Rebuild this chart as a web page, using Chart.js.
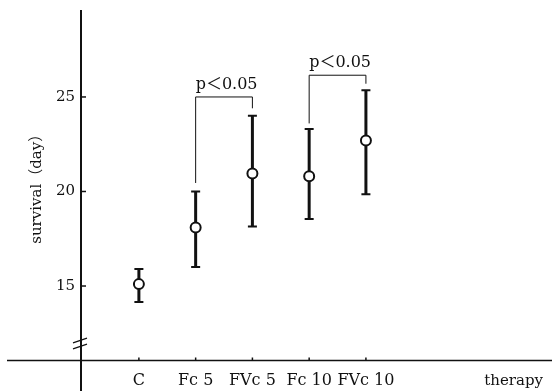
<!DOCTYPE html>
<html>
<head>
<meta charset="utf-8">
<script src="https://cdn.jsdelivr.net/npm/chart.js@4"></script>
<style>
  html, body { margin: 0; padding: 0; background: #fff; }
  #wrap { width: 552px; height: 391px; position: relative; }
</style>
</head>
<body>
<div id="wrap"><canvas id="c" width="552" height="391"></canvas></div>
<script>
// ---- data ----
const categories = ['C', 'Fc 5', 'FVc 5', 'Fc 10', 'FVc 10'];
const meanDays  = [15.1, 18.1, 20.95, 20.8, 22.7];
const upperDays = [15.9, 20.0, 24.0, 23.3, 25.35];
const lowerDays = [14.15, 16.0, 18.15, 18.55, 19.85];
const yTickValues = [15, 20, 25];
const yTitle = 'survival（day）';
const xTitle = 'therapy';
// significance brackets: [left category index, right category index]
const bracketPairs = [[1, 2], [3, 4]];
const bracketTop   = [25.0, 26.15];
const bracketLeftEnd  = [20.45, 23.6];
const bracketRightEnd = [24.4, 25.7];
const bracketLabel = ['p＜0.05', 'p＜0.05'];

const FONT = "'DejaVu Serif', 'Liberation Serif', 'Noto Sans CJK JP', serif";

const overlay = {
  id: 'overlay',
  beforeDatasetsDraw(chart) {
    const ctx = chart.ctx;
    const xs = chart.scales.x, ys = chart.scales.y;
    const area = chart.chartArea;
    ctx.save();
    ctx.strokeStyle = '#111';
    ctx.lineCap = 'butt';
    // x axis
    ctx.lineWidth = 1.5;
    ctx.beginPath();
    ctx.moveTo(7, area.bottom); ctx.lineTo(552, area.bottom);
    ctx.stroke();
    // y axis
    ctx.lineWidth = 2;
    ctx.beginPath();
    ctx.moveTo(area.left, area.top); ctx.lineTo(area.left, 391);
    ctx.stroke();
    // y ticks (inside)
    ctx.lineWidth = 1.5;
    yTickValues.forEach(v => {
      const y = ys.getPixelForValue(v);
      ctx.beginPath(); ctx.moveTo(area.left, y); ctx.lineTo(area.left + 5, y); ctx.stroke();
    });
    // x ticks (up)
    categories.forEach((c, i) => {
      const x = xs.getPixelForValue(i + 1);
      ctx.beginPath(); ctx.moveTo(x, area.bottom); ctx.lineTo(x, area.bottom - 3); ctx.stroke();
    });
    // axis break marks
    ctx.lineWidth = 1.3;
    [14, 20].forEach(d => {
      const yb = area.bottom - d;
      ctx.beginPath(); ctx.moveTo(area.left - 8, yb + 2.3); ctx.lineTo(area.left + 6, yb - 2.3); ctx.stroke();
    });
    // error bars
    meanDays.forEach((m, i) => {
      const x = xs.getPixelForValue(i + 1);
      const yt = ys.getPixelForValue(upperDays[i]);
      const yb = ys.getPixelForValue(lowerDays[i]);
      ctx.lineWidth = 3;
      ctx.beginPath(); ctx.moveTo(x, yt); ctx.lineTo(x, yb); ctx.stroke();
      ctx.lineWidth = 2;
      ctx.beginPath();
      ctx.moveTo(x - 4.5, yt); ctx.lineTo(x + 4.5, yt);
      ctx.moveTo(x - 4.5, yb); ctx.lineTo(x + 4.5, yb);
      ctx.stroke();
    });
    // significance brackets
    ctx.lineWidth = 1;
    ctx.fillStyle = '#111';
    ctx.font = '16px ' + FONT;
    ctx.textAlign = 'left';
    ctx.textBaseline = 'alphabetic';
    bracketPairs.forEach((p, k) => {
      const xl = xs.getPixelForValue(p[0] + 1);
      const xr = xs.getPixelForValue(p[1] + 1);
      const yt = ys.getPixelForValue(bracketTop[k]);
      ctx.beginPath();
      ctx.moveTo(xl, ys.getPixelForValue(bracketLeftEnd[k]));
      ctx.lineTo(xl, yt);
      ctx.lineTo(xr, yt);
      ctx.lineTo(xr, ys.getPixelForValue(bracketRightEnd[k]));
      ctx.stroke();
      ctx.fillText(bracketLabel[k], xl, yt - 8);
    });
    ctx.restore();
  }
};

new Chart(document.getElementById('c'), {
  type: 'scatter',
  data: {
    datasets: [{
      data: meanDays.map((v, i) => ({ x: i + 1, y: v })),
      pointRadius: 5,
      pointBackgroundColor: '#fff',
      pointBorderColor: '#111',
      pointBorderWidth: 2,
      showLine: false
    }]
  },
  options: {
    responsive: false,
    animation: false,
    events: [],
    layout: { padding: { top: 10, right: 9, left: 0, bottom: 0 } },
    plugins: { legend: { display: false }, tooltip: { enabled: false } },
    scales: {
      x: {
        type: 'linear',
        min: -0.02, max: 8.12,
        grid: { display: false, drawTicks: false },
        border: { display: false },
        afterBuildTicks: s => { s.ticks = categories.map((c, i) => ({ value: i + 1 })); },
        afterFit: s => { s.height = 30.5; s.paddingLeft = 0; s.paddingRight = 0; },
        ticks: {
          color: '#111',
          font: { family: FONT, size: 16 },
          padding: 11,
          autoSkip: false,
          maxRotation: 0,
          callback: (v) => categories[Math.round(v) - 1]
        },
        title: {
          display: true, text: xTitle, align: 'end', color: '#111',
          font: { family: FONT, size: 15 },
          padding: { top: 0, bottom: 1 }
        }
      },
      y: {
        min: 11.06, max: 29.6,
        grid: { display: false, drawTicks: false },
        border: { display: false },
        afterBuildTicks: s => { s.ticks = yTickValues.map(v => ({ value: v })); },
        afterFit: s => { s.width = 81; s.paddingTop = 0; s.paddingBottom = 0; },
        ticks: {
          color: '#111',
          font: { family: FONT, size: 15 },
          padding: 6
        },
        title: {
          display: true, text: yTitle, color: '#111',
          font: { family: FONT, size: 15 },
          padding: { top: 28, bottom: 0 }
        }
      }
    }
  },
  plugins: [overlay]
});
</script>
</body>
</html>
